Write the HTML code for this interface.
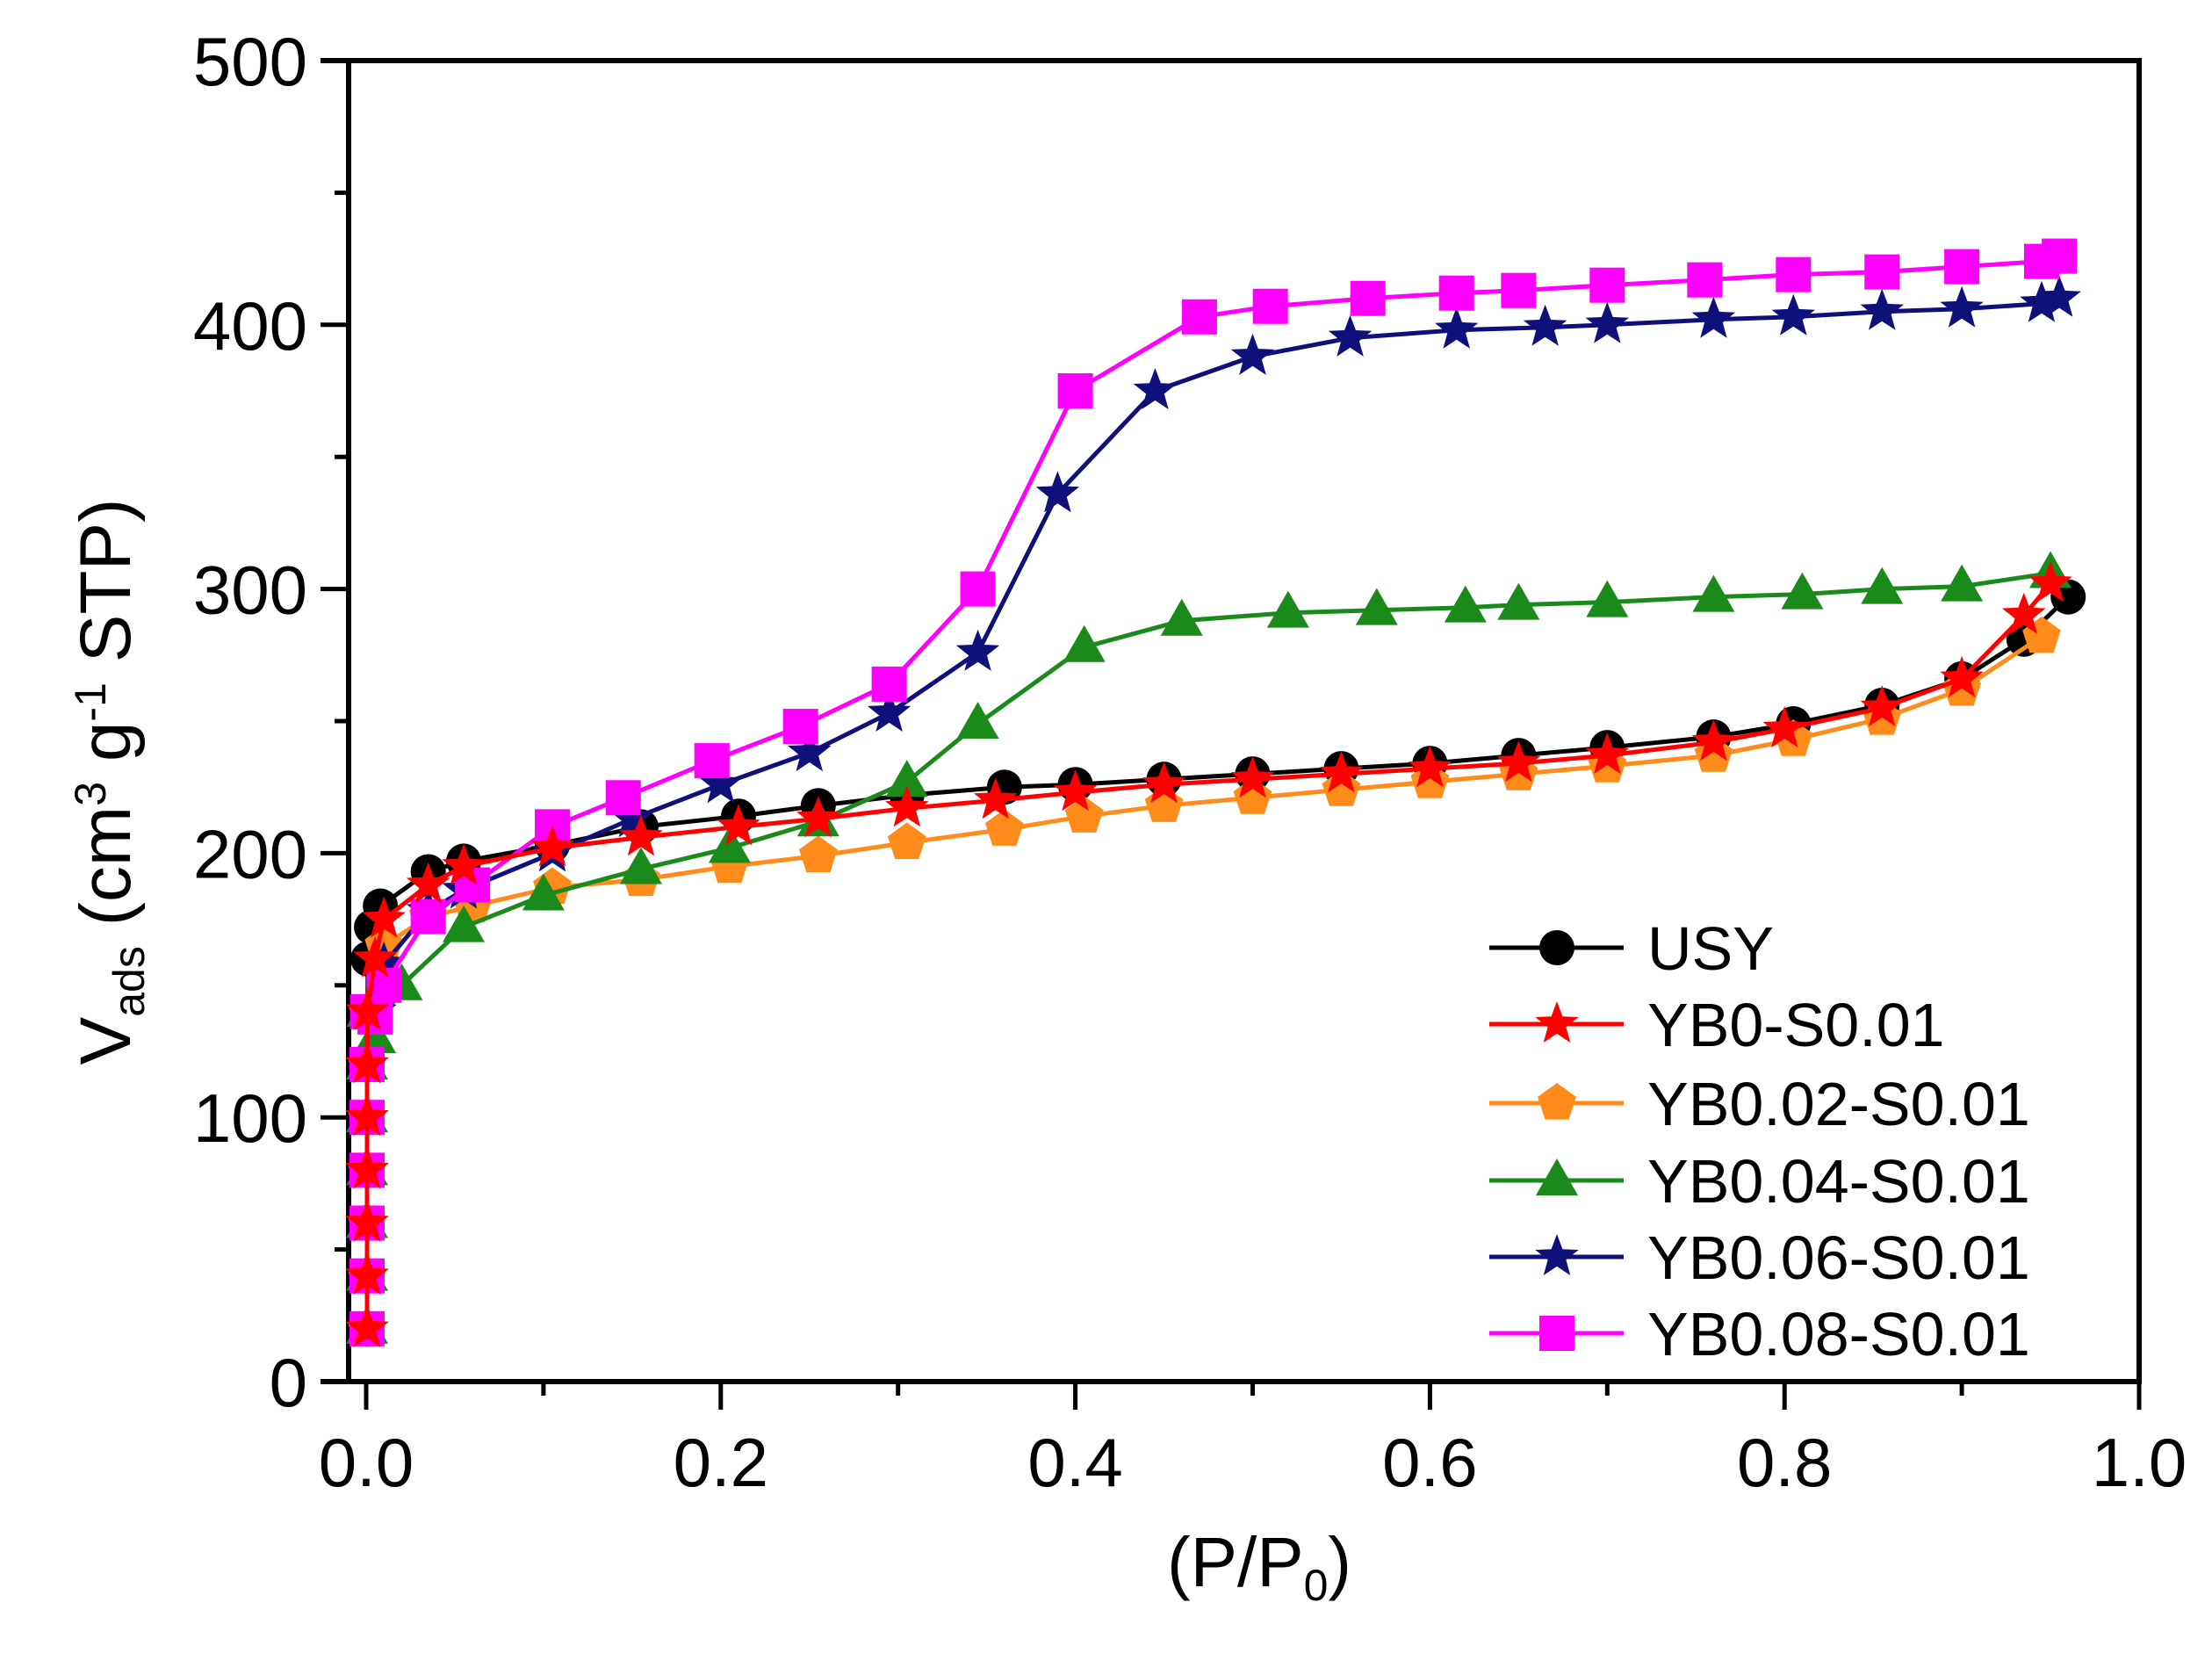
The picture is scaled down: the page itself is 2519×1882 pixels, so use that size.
<!DOCTYPE html>
<html><head><meta charset="utf-8"><style>
html,body{margin:0;padding:0;background:#fff;}
svg{display:block;font-family:"Liberation Sans",Arial,sans-serif;}
</style></head><body>
<svg id="chart" width="2519" height="1882" viewBox="0 0 2519 1882" xmlns="http://www.w3.org/2000/svg">
<rect width="2519" height="1882" fill="#fff"/>
<g id="axes"></g><g id="series"></g><g id="legend"></g>
<text x="1434" y="1806" font-size="80" text-anchor="middle">(P/P<tspan font-size="50" dy="16">0</tspan><tspan dy="-16">)</tspan></text>
<text transform="translate(148,890) rotate(-90)" font-size="82" text-anchor="middle">V<tspan font-size="50" dy="16">ads</tspan><tspan dy="-16"> (cm</tspan><tspan font-size="50" dy="-28">3</tspan><tspan dy="28"> g</tspan><tspan font-size="50" dy="-28">-1</tspan><tspan dy="28"> STP)</tspan></text>
</svg>
<script>
const xTicks=[0,0.2,0.4,0.6,0.8,1.0];
const xTickLabels=["0.0","0.2","0.4","0.6","0.8","1.0"];
const yTicks=[0,100,200,300,400,500];
const yTickLabels=["0","100","200","300","400","500"];
const seriesNames=["USY","YB0-S0.01","YB0.02-S0.01","YB0.04-S0.01","YB0.06-S0.01","YB0.08-S0.01"];
const lowX=[0.0005,0.0005,0.0005,0.0005,0.0005,0.0005,0.0008];
const lowY=[20,40,60,80,100,120,140];
const usyX=[0.001,0.003,0.008,0.035,0.055,0.105,0.155,0.21,0.255,0.305,0.36,0.40,0.45,0.5,0.55,0.6,0.65,0.7,0.76,0.805,0.855,0.9,0.935,0.96];
const usyY=[160,172,180,193,197,203,210,214,218,222,225,226,228,230,232,234,237,240,244,249,256,266,281,297];
const yb0X=[0.005,0.01,0.035,0.055,0.105,0.155,0.21,0.255,0.305,0.355,0.40,0.45,0.5,0.55,0.6,0.65,0.7,0.76,0.80,0.855,0.9,0.935,0.95];
const yb0Y=[160,175,188,195,202,206,210,213,217,220,223,226,228,230,232,234,237,242,247,255,266,290,302];
const yb02X=[0.01,0.035,0.06,0.105,0.155,0.205,0.255,0.305,0.36,0.405,0.45,0.5,0.55,0.6,0.65,0.7,0.76,0.805,0.855,0.9,0.945];
const yb02Y=[165,176,180,187,190,195,199,204,209,214,218,221,224,227,230,233,237,243,251,262,282];
const yb04X=[0.005,0.02,0.055,0.1,0.155,0.205,0.255,0.305,0.345,0.405,0.46,0.52,0.57,0.62,0.65,0.7,0.76,0.81,0.855,0.9,0.95];
const yb04Y=[130,150,172,184,194,202,212,227,249,278,288,291,292,293,294,295,297,298,300,301,306];
const yb06X=[0.005,0.01,0.035,0.055,0.105,0.15,0.2,0.25,0.295,0.345,0.39,0.445,0.5,0.555,0.615,0.665,0.7,0.76,0.805,0.855,0.9,0.945,0.955];
const yb06Y=[140,158,178,186,200,213,226,238,253,276,336,375,388,395,398,399,400,402,403,405,406,408,410];
const yb08X=[0.005,0.01,0.035,0.06,0.105,0.145,0.195,0.245,0.295,0.345,0.4,0.47,0.51,0.565,0.615,0.65,0.7,0.755,0.805,0.855,0.9,0.945,0.955];
const yb08Y=[138,150,176,188,210,221,235,248,264,300,375,403,407,410,412,413,415,417,419,420,422,424,426];

const NS="http://www.w3.org/2000/svg";
const X0=417,X1=2436,Y0=1573,Y1=69,L=397;
const sx=v=>X0+v*(X1-X0);
const sy=v=>Y0-(v/500)*(Y0-Y1);
function mk(tag,attrs,parent){const e=document.createElementNS(NS,tag);for(const k in attrs)e.setAttribute(k,attrs[k]);parent.appendChild(e);return e;}
const axes=document.getElementById('axes');
let f=mk('rect',{x:L,y:Y1,width:X1-L,height:Y0-Y1,fill:'none',stroke:'#000','stroke-width':6},axes);


mk('line',{x1:365,y1:Y0,x2:X1,y2:Y0,stroke:'#000','stroke-width':6},axes);
mk('line',{x1:365,y1:Y1,x2:L,y2:Y1,stroke:'#000','stroke-width':6},axes);
for(let v=0;v<=1.0001;v+=0.1){const big=Math.round(v*10)%2===0;const t=mk('line',{x1:sx(v),y1:Y0,x2:sx(v),y2:Y0+(big?32:16),stroke:'#000','stroke-width':5},axes);

}
for(let v=0;v<=500;v+=50){const big=v%100===0;const t=mk('line',{x1:L,y1:sy(v),x2:L-(big?32:16),y2:sy(v),stroke:'#000','stroke-width':5},axes);

}
xTicks.forEach((v,i)=>{const t=mk('text',{x:sx(v),y:1692,'font-size':78,'text-anchor':'middle'},axes);t.textContent=xTickLabels[i];

});
yTicks.forEach((v,i)=>{const t=mk('text',{x:350,y:sy(v)+28,'font-size':78,'text-anchor':'end'},axes);t.textContent=yTickLabels[i];

});

function starPts(cx,cy,r){let p=[];for(let i=0;i<10;i++){const a=-Math.PI/2+i*Math.PI/5;const rr=i%2?r*0.42:r;p.push((cx+rr*Math.cos(a)).toFixed(1)+','+(cy+rr*Math.sin(a)).toFixed(1));}return p.join(' ');}
function polyPts(cx,cy,r,n){let p=[];for(let i=0;i<n;i++){const a=-Math.PI/2+i*2*Math.PI/n;p.push((cx+r*Math.cos(a)).toFixed(1)+','+(cy+r*Math.sin(a)).toFixed(1));}return p.join(' ');}
function marker(type,cx,cy,color,g){
 if(type==='circle')return mk('circle',{cx:cx,cy:cy,r:20,fill:color},g);
 if(type==='star')return mk('polygon',{points:starPts(cx,cy,26),fill:color},g);
 if(type==='pent')return mk('polygon',{points:polyPts(cx,cy,23,5),fill:color},g);
 if(type==='tri')return mk('polygon',{points:(cx)+','+(cy-25)+' '+(cx+24)+','+(cy+17)+' '+(cx-24)+','+(cy+17),fill:color},g);
 if(type==='sq')return mk('rect',{x:cx-20,y:cy-20,width:40,height:40,fill:color},g);
}
const defs=[
 {x:usyX,y:usyY,c:'#000000',m:'circle',lc:'#000'},
 {x:yb02X,y:yb02Y,c:'#ff8c1a',m:'pent',lc:'#ff8c1a'},
 {x:yb04X,y:yb04Y,c:'#1a8a1a',m:'tri',lc:'#1a8a1a'},
 {x:yb06X,y:yb06Y,c:'#10107a',m:'star',lc:'#10107a'},
 {x:yb08X,y:yb08Y,c:'#ff00ff',m:'sq',lc:'#ff00ff'},
 {x:yb0X,y:yb0Y,c:'#ff0000',m:'star',lc:'#ff0000'}
];
const nameIdx=[0,2,3,4,5,1];
const sg=document.getElementById('series');
defs.forEach((d,k)=>{
 const g=mk('g',{},sg);
 
 
 const xs=lowX.concat(d.x), ys=lowY.concat(d.y);
 const pts=xs.map((v,i)=>sx(v).toFixed(1)+','+sy(ys[i]).toFixed(1)).join(' ');
 mk('polyline',{points:pts,fill:'none',stroke:d.lc,'stroke-width':5},g);
 xs.forEach((v,i)=>{const m=marker(d.m,sx(v),sy(ys[i]),d.c,g);
 
 });
});
const lg=document.getElementById('legend');
const legOrder=[0,5,1,2,3,4];
const rowsY=[1079,1166,1256,1344,1431,1518];
legOrder.forEach((k,i)=>{
 const d=defs[k];const g=mk('g',{},lg);
 
 
 mk('line',{x1:1696,y1:rowsY[i],x2:1849,y2:rowsY[i],stroke:d.lc,'stroke-width':5},g);
 marker(d.m,1773,rowsY[i],d.c,g);
 const t=mk('text',{x:1876,y:rowsY[i]+25,'font-size':70},g);t.textContent=seriesNames[nameIdx[k]];
});
</script>
</body></html>
